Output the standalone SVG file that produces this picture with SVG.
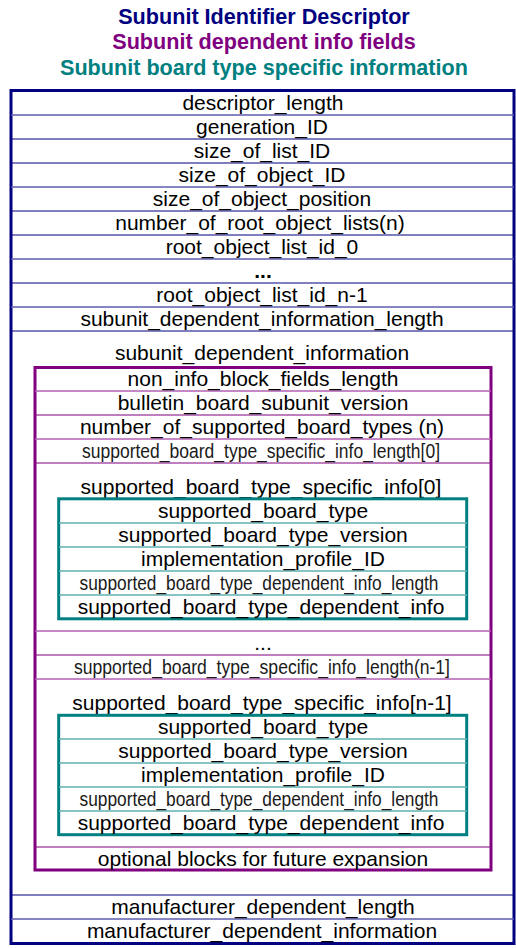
<svg xmlns="http://www.w3.org/2000/svg" width="516" height="948" viewBox="0 0 516 948">
  <style>
    .title { font-family: "Liberation Sans", Arial, sans-serif; font-weight: bold; font-size: 21.6px; text-anchor: middle; }
    .t { font-family: "Liberation Sans", Arial, sans-serif; font-size: 21px; text-anchor: middle; fill: #000; }
    .n { font-family: "Liberation Sans", Arial, sans-serif; font-size: 20.5px; text-anchor: middle; fill: #1a1a1a; }
    .outer { fill: #fff; stroke: #000080; stroke-width: 3; }
    .purple { fill: none; stroke: #800080; stroke-width: 3; }
    .teal { fill: none; stroke: #008080; stroke-width: 3; }
    .ln { stroke: #000080; stroke-width: 1.2; }
    .lnl { stroke: #5c5cb0; stroke-width: 1.6; }
    .pd { stroke: #800080; stroke-width: 1.2; }
    .pl { stroke: #b35fb3; stroke-width: 1.6; }
    .tl { stroke: #5fb0b0; stroke-width: 1.4; }
  </style>
  <rect width="516" height="948" fill="#fff"/>

  <!-- headings -->
  <g id="headings">
    <text class="title" x="264" y="24" fill="#000080">Subunit Identifier Descriptor</text>
    <text class="title" x="264" y="49" fill="#800080">Subunit dependent info fields</text>
    <text class="title" x="264" y="75" fill="#008080">Subunit board type specific information</text>
  </g>

  <!-- descriptor frame -->
  <g id="descriptor">
    <rect class="outer" x="11" y="90.5" width="503" height="853"/>
  </g>

  <!-- top-level fields -->
  <g id="descriptor-fields">
    <line class="lnl" x1="11" y1="115" x2="514" y2="115"/>
    <line class="ln" x1="11" y1="139" x2="514" y2="139"/>
    <line class="ln" x1="11" y1="163" x2="514" y2="163"/>
    <line class="lnl" x1="11" y1="187" x2="514" y2="187"/>
    <line class="ln" x1="11" y1="211" x2="514" y2="211"/>
    <line class="ln" x1="11" y1="235" x2="514" y2="235"/>
    <line class="lnl" x1="11" y1="259" x2="514" y2="259"/>
    <line class="ln" x1="11" y1="283" x2="514" y2="283"/>
    <line class="lnl" x1="11" y1="307" x2="514" y2="307"/>
    <line class="ln" x1="11" y1="331" x2="514" y2="331"/>
    <line class="ln" x1="11" y1="895" x2="514" y2="895"/>
    <line class="lnl" x1="11" y1="919" x2="514" y2="919"/>

    <text class="t" x="263" y="110">descriptor_length</text>
    <text class="t" x="262" y="134">generation_ID</text>
    <text class="t" x="262" y="158">size_of_list_ID</text>
    <text class="t" x="262" y="182">size_of_object_ID</text>
    <text class="t" x="262" y="206">size_of_object_position</text>
    <text class="t" x="260" y="230">number_of_root_object_lists(n)</text>
    <text class="t" x="262" y="254">root_object_list_id_0</text>
    <text class="t" x="263" y="278" font-weight="bold">...</text>
    <text class="t" x="262" y="302">root_object_list_id_n-1</text>
    <text class="t" x="262" y="326">subunit_dependent_information_length</text>
    <text class="t" x="262" y="360">subunit_dependent_information</text>
    <text class="t" x="263" y="914">manufacturer_dependent_length</text>
    <text class="t" x="262" y="938">manufacturer_dependent_information</text>
  </g>

  <!-- subunit dependent information -->
  <g id="subunit-dependent-info">
    <rect class="purple" x="35" y="367.5" width="456" height="502.5"/>
    <line class="pl" x1="35" y1="391" x2="491" y2="391"/>
    <line class="pd" x1="35" y1="415" x2="491" y2="415"/>
    <line class="pl" x1="35" y1="439" x2="491" y2="439"/>
    <line class="pd" x1="35" y1="463" x2="491" y2="463"/>
    <line class="pl" x1="35" y1="631" x2="491" y2="631"/>
    <line class="pd" x1="35" y1="655" x2="491" y2="655"/>
    <line class="pl" x1="35" y1="679" x2="491" y2="679"/>
    <line class="pd" x1="35" y1="847" x2="491" y2="847"/>

    <text class="t" x="263" y="386">non_info_block_fields_length</text>
    <text class="t" x="263" y="410">bulletin_board_subunit_version</text>
    <text class="t" x="262" y="434">number_of_supported_board_types (n)</text>
    <text class="n" x="261" y="457.5" textLength="358" lengthAdjust="spacingAndGlyphs">supported_board_type_specific_info_length[0]</text>
    <text class="t" x="261" y="494">supported_board_type_specific_info[0]</text>
    <text class="t" x="263" y="650">...</text>
    <text class="n" x="262" y="673.5" textLength="376" lengthAdjust="spacingAndGlyphs">supported_board_type_specific_info_length(n-1]</text>
    <text class="t" x="262" y="710">supported_board_type_specific_info[n-1]</text>
    <text class="t" x="263" y="866">optional blocks for future expansion</text>
  </g>

  <!-- board type specific info [0] -->
  <g id="board-info-0">
    <rect class="teal" x="58.7" y="498.8" width="408" height="120"/>
    <line class="tl" x1="59" y1="523" x2="467" y2="523"/>
    <line class="tl" x1="59" y1="547" x2="467" y2="547"/>
    <line class="tl" x1="59" y1="571" x2="467" y2="571"/>
    <line class="tl" x1="59" y1="595" x2="467" y2="595"/>
    <text class="t" x="263" y="518">supported_board_type</text>
    <text class="t" x="263" y="542">supported_board_type_version</text>
    <text class="t" x="263" y="566">implementation_profile_ID</text>
    <text class="n" x="259" y="589.5" textLength="359" lengthAdjust="spacingAndGlyphs">supported_board_type_dependent_info_length</text>
    <text class="t" x="261" y="614">supported_board_type_dependent_info</text>
  </g>

  <!-- board type specific info [n-1] -->
  <g id="board-info-n-1">
    <rect class="teal" x="58.7" y="715.3" width="408" height="119.4"/>
    <line class="tl" x1="59" y1="739" x2="467" y2="739"/>
    <line class="tl" x1="59" y1="763" x2="467" y2="763"/>
    <line class="tl" x1="59" y1="787" x2="467" y2="787"/>
    <line class="tl" x1="59" y1="811" x2="467" y2="811"/>
    <text class="t" x="263" y="734">supported_board_type</text>
    <text class="t" x="263" y="758">supported_board_type_version</text>
    <text class="t" x="263" y="782">implementation_profile_ID</text>
    <text class="n" x="259" y="805.5" textLength="359" lengthAdjust="spacingAndGlyphs">supported_board_type_dependent_info_length</text>
    <text class="t" x="261" y="830">supported_board_type_dependent_info</text>
  </g>
</svg>
